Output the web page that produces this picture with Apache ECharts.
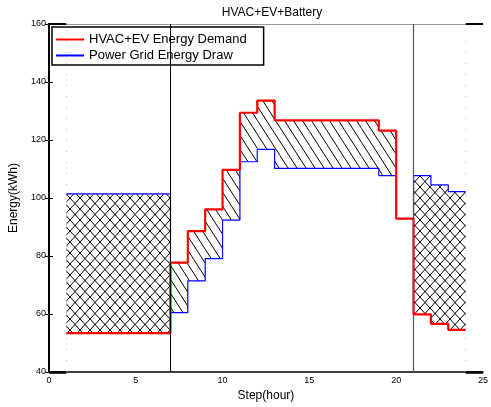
<!DOCTYPE html>
<html><head><meta charset="utf-8">
<script src="https://cdn.jsdelivr.net/npm/echarts@6/dist/echarts.min.js"></script>
<style>html,body{margin:0;padding:0;background:#fff}#c{width:491px;height:407px}</style>
</head><body><div id="c"></div>
<script>
const hours  = [1,2,3,4,5,6,7,8,9,10,11,12,13,14,15,16,17,18,19,20,21,22,23,24];
const demand = [53.4,53.4,53.4,53.4,53.4,53.4,77.7,88.6,96.1,109.7,129.4,133.6,126.8,126.8,126.8,126.8,126.8,126.8,123.2,92.9,59.9,56.6,54.5,54.5];
const gridDraw = [101.4,101.4,101.4,101.4,101.4,101.4,60.5,71.4,79.1,92.4,112.5,116.8,110.2,110.2,110.2,110.2,110.2,110.2,107.7,92.9,107.7,104.5,102.2,102.2];
const xTicks = [0,5,10,15,20,25];
const yTicks = [40,60,80,100,120,140,160];
const seriesNames = ['HVAC+EV Energy Demand','Power Grid Energy Draw'];
const titleText = 'HVAC+EV+Battery';
const FONT = 'Liberation Sans, Arial, sans-serif';

function hatch(w,h,cross){
  const c=document.createElement('canvas'); c.width=w; c.height=h;
  const g=c.getContext('2d'); g.strokeStyle='#000'; g.lineWidth=1;
  g.beginPath();
  for(let k=-1;k<=1;k++){
    g.moveTo(k*w,0); g.lineTo(k*w+w,h);
    if(cross){ g.moveTo(k*w+w,0); g.lineTo(k*w,h); }
  }
  g.stroke();
  return {image:c, repeat:'repeat'};
}
const crossPat = hatch(10,11,true);
const singlePat = hatch(9,14,false);

const segs = [];
for(let i=0;i<hours.length-1;i++) segs.push([hours[i], demand[i], gridDraw[i]]);

const chart = echarts.init(document.getElementById('c'));
chart.setOption({
  animation:false,
  title:{text:titleText,left:267,textAlign:'center',top:2,textStyle:{fontFamily:FONT,fontSize:12,fontWeight:'normal',color:'#000'}},
  legend:{
    left:52, top:27, orient:'vertical', itemWidth:28, itemHeight:2, itemGap:3,
    padding:[6,17,3,4], backgroundColor:'#fff', borderColor:'#000', borderWidth:1.5, borderRadius:0,
    textStyle:{fontFamily:FONT,fontSize:13,color:'#000'},
    data:[{name:seriesNames[0],icon:'rect'},{name:seriesNames[1],icon:'rect'}]
  },
  grid:{left:47,right:4,top:24,bottom:35},
  xAxis:[{type:'value',min:0,max:25,interval:5,
    name:'Step(hour)',nameLocation:'middle',nameGap:12,nameTextStyle:{fontFamily:FONT,fontSize:12,color:'#000'},
    axisLine:{lineStyle:{color:'#000',width:1.5}},axisTick:{show:false},splitLine:{show:false},
    axisLabel:{fontFamily:FONT,fontSize:9,color:'#000',margin:4}},
    {type:'value',min:0,max:25,interval:5,position:'top',axisLine:{lineStyle:{color:'#999',width:1}},axisTick:{show:false},axisLabel:{show:false},splitLine:{show:false}}],
  yAxis:[{type:'value',min:40,max:160,interval:20,
    name:'Energy(kWh)',nameLocation:'middle',nameGap:27,nameTextStyle:{fontFamily:FONT,fontSize:12,color:'#000'},
    axisLine:{lineStyle:{color:'#000',width:2}},axisTick:{inside:true,length:4,lineStyle:{color:'#000'}},splitLine:{show:false},
    axisLabel:{fontFamily:FONT,fontSize:9,color:'#000',margin:3}},
    {type:'value',min:40,max:160,interval:20,position:'right',
    axisLine:{lineStyle:{color:'#000',width:2}},axisTick:{inside:true,length:4,lineStyle:{color:'#000'}},axisLabel:{show:false},splitLine:{show:false}}],
  series:[
    {type:'custom',name:'fill',clip:true,z:1,silent:true,
     data:segs,
     renderItem:function(params,api){
       const s=segs[params.dataIndex];
       const x0=s[0], x1=hours[params.dataIndex+1], a=s[1], b=s[2];
       if(Math.abs(a-b)<0.01) return null;
       const p1=api.coord([x0,a]), p2=api.coord([x1,a]), p3=api.coord([x1,b]), p4=api.coord([x0,b]);
       return {type:'polygon',shape:{points:[p1,p2,p3,p4]},style:{fill: b>a?crossPat:singlePat, stroke:null}};
     }},
    {type:'line',name:'vlines',data:[],z:2,silent:true,
     markLine:{symbol:'none',silent:true,label:{show:false},animation:false,
       data:[
         {xAxis:7,lineStyle:{color:'#000',width:1,type:'solid'}},
         {xAxis:21,lineStyle:{color:'#555',width:1.2,type:'solid'}},
         {xAxis:1,lineStyle:{color:'#bbb',width:1,type:[1,10]}},
         {xAxis:24,lineStyle:{color:'#bbb',width:1,type:[1,10]}},
         [{coord:[0,160],lineStyle:{color:'#000',width:2,type:'solid'}},{coord:[1,160]}],
         [{coord:[24,160],lineStyle:{color:'#000',width:2,type:'solid'}},{coord:[25,160]}],
         [{coord:[0,40],lineStyle:{color:'#000',width:2.5,type:'solid'}},{coord:[1,40]}],
         [{coord:[24,40],lineStyle:{color:'#000',width:2.5,type:'solid'}},{coord:[25,40]}]
       ]}},
    {type:'line',name:seriesNames[1],step:'end',showSymbol:false,z:3,
     data:hours.map((h,i)=>[h,gridDraw[i]]),
     lineStyle:{color:'#0000ff',width:1.2},itemStyle:{color:'#0000ff'}},
    {type:'line',name:seriesNames[0],step:'end',showSymbol:false,z:4,
     data:hours.map((h,i)=>[h,demand[i]]),
     lineStyle:{color:'#ff0000',width:2.2},itemStyle:{color:'#ff0000'}}
  ]
});
</script></body></html>
